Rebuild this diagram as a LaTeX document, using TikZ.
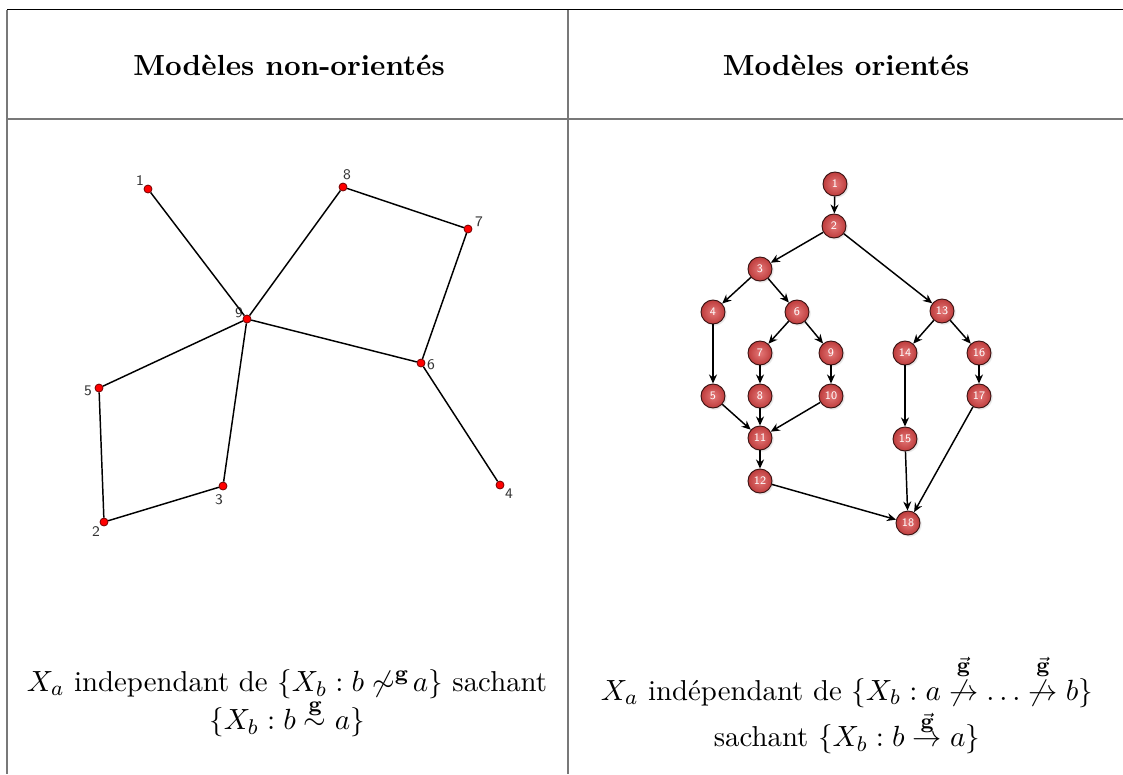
\documentclass[tikz,border=0pt]{standalone}
\usepackage{amsmath,amssymb}
\usetikzlibrary{arrows.meta,shadows}
\definecolor{dred}{RGB}{190,60,60}
\definecolor{lred}{RGB}{228,120,120}
\definecolor{rule}{RGB}{120,120,120}
\newcommand{\lowg}[1]{\raisebox{-2pt}{$\scriptstyle #1$}}
\tikzset{
  udot/.style={circle, fill=red, draw=red!45!black, line width=0.3pt, inner sep=0pt, minimum size=3pt},
  ulab/.style={font=\fontsize{5.5}{6}\selectfont\sffamily, text=black!80, inner sep=0pt},
  uedge/.style={line width=0.55pt},
  dnode/.style={circle, shading=radial, inner color=lred, outer color=dred, draw=black!70!dred, line width=0.35pt, inner sep=0pt,
    minimum size=9pt, font=\fontsize{4.3}{5}\selectfont\sffamily, text=white,
    circular drop shadow={shadow xshift=0.4pt, shadow yshift=-0.4pt, opacity=0.2, shadow scale=1.08}},
  darr/.style={-{Stealth[length=3.4pt,width=3pt]}, line width=0.55pt},
  toprule/.style={line width=0.6pt, black},
  grule/.style={line width=0.75pt, rule},
  head/.style={font=\fontsize{10.9}{13}\selectfont\bfseries},
  body/.style={align=center, font=\fontsize{10.8}{14.25}\selectfont}
}
\begin{document}
\begin{tikzpicture}[x=0.375pt, y=-0.375pt]
\useasboundingbox (0,0) rectangle (1123,774);
% table rules
\coordinate (tl) at (7,9.5);
\coordinate (tr) at (1123,9.5);
\coordinate (tm) at (568,9.5);
\coordinate (bl) at (7,774);
\coordinate (bm) at (568,774);
\coordinate (hl) at (7,118.5);
\coordinate (hr) at (1123,118.5);
\draw[grule] (tl) -- (bl);
\draw[grule] (tm) -- (bm);
\draw[grule] (hl) -- (hr);
\draw[toprule] (tl) -- (tr);
% headers
\node[head] (h1) at (289,65) {Modèles non-orientés};
\node[head] (h2) at (846,65) {Modèles orientés};
% undirected graph
\node[udot] (u1) at (148,189) {};
\node[udot] (u9) at (247,319) {};
\node[udot] (u8) at (343,187) {};
\node[udot] (u7) at (468,229) {};
\node[udot] (u6) at (421,363) {};
\node[udot] (u4) at (500,485) {};
\node[udot] (u5) at (99,388) {};
\node[udot] (u3) at (223,486) {};
\node[udot] (u2) at (104,522) {};
\node[ulab] (l1) at (140,181) {1};
\node[ulab] (l9) at (239,313) {9};
\node[ulab] (l8) at (347,175) {8};
\node[ulab] (l7) at (479,222) {7};
\node[ulab] (l6) at (431,365) {6};
\node[ulab] (l4) at (509,494) {4};
\node[ulab] (l5) at (88,391) {5};
\node[ulab] (l3) at (219,500) {3};
\node[ulab] (l2) at (96,532) {2};
\draw[uedge] (u1) -- (u9);
\draw[uedge] (u9) -- (u8);
\draw[uedge] (u8) -- (u7);
\draw[uedge] (u7) -- (u6);
\draw[uedge] (u9) -- (u6);
\draw[uedge] (u6) -- (u4);
\draw[uedge] (u9) -- (u5);
\draw[uedge] (u5) -- (u2);
\draw[uedge] (u2) -- (u3);
\draw[uedge] (u3) -- (u9);
% directed graph
\node[dnode] (d1) at (835,184) {1};
\node[dnode] (d2) at (834,226) {2};
\node[dnode] (d3) at (760,269) {3};
\node[dnode] (d4) at (713,312) {4};
\node[dnode] (d6) at (797,312) {6};
\node[dnode] (d7) at (760,353) {7};
\node[dnode] (d9) at (831,353) {9};
\node[dnode] (d5) at (713,396) {5};
\node[dnode] (d8) at (760,396) {8};
\node[dnode] (d10) at (831,396) {10};
\node[dnode] (d11) at (760,438) {11};
\node[dnode] (d12) at (760,481) {12};
\node[dnode] (d13) at (942,311) {13};
\node[dnode] (d14) at (905,353) {14};
\node[dnode] (d16) at (979,353) {16};
\node[dnode] (d17) at (979,396) {17};
\node[dnode] (d15) at (905,439) {15};
\node[dnode] (d18) at (908,523) {18};
\draw[darr] (d1) -- (d2);
\draw[darr] (d2) -- (d3);
\draw[darr] (d2) -- (d13);
\draw[darr] (d3) -- (d4);
\draw[darr] (d3) -- (d6);
\draw[darr] (d4) -- (d5);
\draw[darr] (d6) -- (d7);
\draw[darr] (d6) -- (d9);
\draw[darr] (d7) -- (d8);
\draw[darr] (d9) -- (d10);
\draw[darr] (d5) -- (d11);
\draw[darr] (d8) -- (d11);
\draw[darr] (d10) -- (d11);
\draw[darr] (d11) -- (d12);
\draw[darr] (d12) -- (d18);
\draw[darr] (d13) -- (d14);
\draw[darr] (d13) -- (d16);
\draw[darr] (d14) -- (d15);
\draw[darr] (d16) -- (d17);
\draw[darr] (d15) -- (d18);
\draw[darr] (d17) -- (d18);
% captions
\node[body] (t1) at (287,703) {$X_a$ independant de $\{X_b : b \not\sim^{\mathbf{g}}\! a\}$ sachant\\ $\{X_b : b \stackrel{\lowg{\mathbf{g}}}{\sim} a\}$};
\node[body] (t2) at (847,704) {$X_a$ indépendant de $\{X_b : a \stackrel{\lowg{\vec{\mathbf{g}}}}{\not\to} \ldots \stackrel{\lowg{\vec{\mathbf{g}}}}{\not\to} b\}$\\ sachant $\{X_b : b \stackrel{\lowg{\vec{\mathbf{g}}}}{\to} a\}$};
\end{tikzpicture}
\end{document}
